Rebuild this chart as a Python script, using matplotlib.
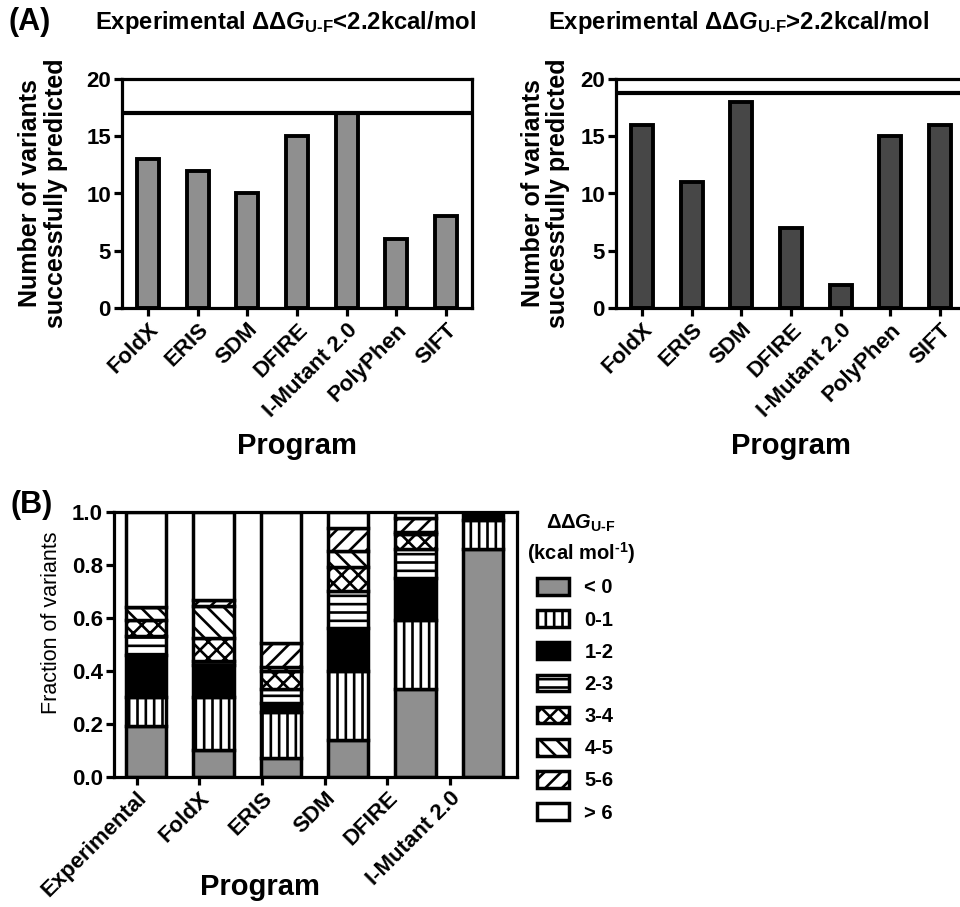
import numpy as np
import matplotlib
matplotlib.use('Agg')
import matplotlib.pyplot as plt
from matplotlib.patches import Patch

plt.rcParams['font.family'] = ['Liberation Sans', 'DejaVu Sans']
plt.rcParams['font.weight'] = 'bold'
plt.rcParams['mathtext.fontset'] = 'custom'
plt.rcParams['mathtext.rm'] = 'Liberation Sans:bold'
plt.rcParams['mathtext.it'] = 'Liberation Sans:bold:italic'
plt.rcParams['mathtext.bf'] = 'Liberation Sans:bold'
plt.rcParams['hatch.linewidth'] = 1.9

# ---------------- data ----------------
programs_a = ['FoldX', 'ERIS', 'SDM', 'DFIRE', 'I-Mutant 2.0', 'PolyPhen', 'SIFT']
low_counts = [13, 12, 10, 15, 17, 6, 8]      # ddG < 2.2 kcal/mol
high_counts = [16, 11, 18, 7, 2, 15, 16]     # ddG > 2.2 kcal/mol
low_total = 17
high_total = 18.8

programs_b = ['Experimental', 'FoldX', 'ERIS', 'SDM', 'DFIRE', 'I-Mutant 2.0']
bins = ['< 0', '0-1', '1-2', '2-3', '3-4', '4-5', '5-6', '> 6']
frac_lt0 = [0.19, 0.10, 0.07, 0.14, 0.33, 0.86]
frac_01 = [0.11, 0.20, 0.175, 0.26, 0.26, 0.11]
frac_12 = [0.16, 0.12, 0.035, 0.16, 0.16, 0.03]
frac_23 = [0.07, 0.015, 0.05, 0.14, 0.11, 0.0]
frac_34 = [0.06, 0.09, 0.07, 0.09, 0.055, 0.0]
frac_45 = [0.05, 0.12, 0.015, 0.06, 0.01, 0.0]
frac_56 = [0.0, 0.02, 0.09, 0.09, 0.05, 0.0]
frac_gt6 = [0.36, 0.335, 0.495, 0.06, 0.025, 0.0]
fractions = [frac_lt0, frac_01, frac_12, frac_23, frac_34, frac_45, frac_56, frac_gt6]

bin_faces = ['#8f8f8f', 'white', 'black', 'white', 'white', 'white', 'white', 'white']
bin_hatches = [None, '||', None, '--', 'xx', '\\\\', '//', None]

W, H = 960, 907
fig = plt.figure(figsize=(W / 100, H / 100), dpi=100)


def px_axes(left, top, right, bottom):
    return fig.add_axes([left / W, 1 - bottom / H, (right - left) / W, (bottom - top) / H])


def style_axes(ax):
    for s in ax.spines.values():
        s.set_linewidth(2.3)
    ax.tick_params(direction='out', length=6, width=2.3, labelsize=16, pad=2)
    for lab in ax.get_xticklabels() + ax.get_yticklabels():
        lab.set_fontweight('bold')


def panel_a(ax, counts, total, color, ypad):
    x = np.arange(len(programs_a))
    ax.bar(x, counts, width=0.44, color=color, edgecolor='black', linewidth=2.8, zorder=2)
    ax.axhline(total, color='black', linewidth=3, zorder=3)
    ax.set_xlim(-0.52, 6.52)
    ax.set_ylim(0, 20)
    ax.set_yticks([0, 5, 10, 15, 20])
    ax.set_xticks(x)
    ax.set_xticklabels(programs_a, rotation=45, ha='right', rotation_mode='anchor', fontsize=16)
    ax.set_ylabel('Number of variants\nsuccessfully predicted', fontsize=18, fontweight='bold',
                  labelpad=ypad, linespacing=1.1)
    ax.set_xlabel('Program', fontsize=21, fontweight='bold', labelpad=8)
    style_axes(ax)


ax1 = px_axes(122, 79, 472, 308)
panel_a(ax1, low_counts, low_total, '#8f8f8f', 13)
ax2 = px_axes(616, 79, 966, 308)
panel_a(ax2, high_counts, high_total, '#474747', 7)

fig.text(8 / W, 1 - 22 / H, '(A)', fontsize=22, fontweight='bold', va='center')
fig.text(95 / W, 1 - 22 / H,
         r'Experimental ΔΔ$\mathit{G}_{\text{U-F}}$<2.2kcal/mol',
         fontsize=17.2, fontweight='bold', va='center')
fig.text(548 / W, 1 - 22 / H,
         r'Experimental ΔΔ$\mathit{G}_{\text{U-F}}$>2.2kcal/mol',
         fontsize=17.2, fontweight='bold', va='center')

# ---------------- panel B ----------------
ax3 = px_axes(114, 511.7, 516.7, 776.7)
xb = np.arange(len(programs_b))
bottom = np.zeros(len(programs_b))
for vals, fc, hat in zip(fractions, bin_faces, bin_hatches):
    vals = np.array(vals)
    ax3.bar(xb, vals, bottom=bottom, width=0.60, color=fc, hatch=hat,
            edgecolor='black', linewidth=2.5, zorder=2)
    bottom += vals
ax3.set_xlim(-0.475, 5.50)
ax3.set_ylim(0, 1.0)
ax3.set_yticks(np.arange(0, 1.01, 0.2))
ax3.set_yticklabels(['%.1f' % v for v in np.arange(0, 1.01, 0.2)])
# tick marks in the source figure sit slightly left of the bar centres
ax3.set_xticks(xb * 0.93 - 0.14)
ax3.set_xticklabels(programs_b, rotation=45, ha='right', rotation_mode='anchor', fontsize=16)
ax3.set_ylabel('Fraction of variants', fontsize=15.5, fontweight='normal')
ax3.yaxis.set_label_coords(-0.128, 0.58)
style_axes(ax3)
fig.text(260 / W, 1 - 887 / H, 'Program', fontsize=21, fontweight='bold',
         ha='center', va='center')

fig.text(10 / W, 1 - 505 / H, '(B)', fontsize=22, fontweight='bold', va='center')

handles = [Patch(facecolor=fc, hatch=hat, edgecolor='black', linewidth=2.5)
           for fc, hat in zip(bin_faces, bin_hatches)]
leg = fig.legend(handles, bins, loc='upper left', bbox_to_anchor=(537 / W, 1 - 578 / H),
                 frameon=False, fontsize=14.5, handlelength=1.6, handleheight=0.9,
                 labelspacing=0.64, handletextpad=0.75, borderpad=0, borderaxespad=0)
for t in leg.get_texts():
    t.set_fontweight('bold')
fig.text(581 / W, 1 - 523 / H, r'ΔΔ$\mathit{G}_{\text{U-F}}$', fontsize=14.5,
         fontweight='bold', ha='center', va='center')
fig.text(581 / W, 1 - 553 / H, r'(kcal mol$^{\text{-1}}$)', fontsize=14.5,
         fontweight='bold', ha='center', va='center')

fig.savefig('out.png', dpi=100)
